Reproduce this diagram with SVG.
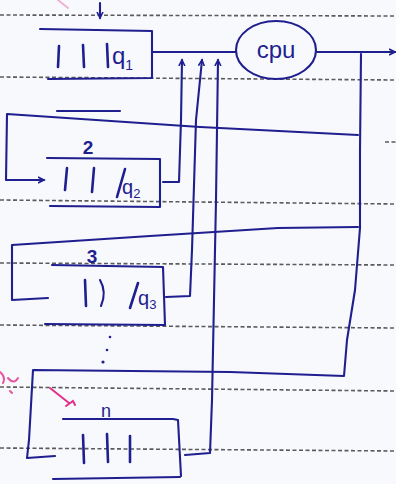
<svg xmlns="http://www.w3.org/2000/svg" width="396" height="484" viewBox="0 0 396 484">
<style>
.rule{stroke:#333;stroke-width:1.6;stroke-dasharray:4 2.5;fill:none;opacity:.8}
.ink{stroke:#1f1f8f;stroke-width:2.1;fill:none;stroke-linecap:round;stroke-linejoin:round}
.bar{stroke:#1f1f8f;stroke-width:2.6;stroke-linecap:round}
.t{font-family:"Liberation Sans","DejaVu Sans",sans-serif;fill:#1f1f8f}
.pink{stroke:#e0308a;stroke-width:2;fill:none;stroke-linecap:round}
</style>
<defs>
<marker id="ah" markerWidth="8" markerHeight="8" refX="6" refY="4" orient="auto" markerUnits="userSpaceOnUse">
<path d="M0,1 L6,4 L0,7" fill="none" stroke="#1f1f8f" stroke-width="1.6"/>
</marker>
</defs>
<rect width="396" height="484" fill="#f8f9fc"/>
<g id="ruling">
<line class="rule" x1="0" y1="15" x2="396" y2="16"/>
<line class="rule" x1="0" y1="77" x2="396" y2="80"/>
<line class="rule" x1="385" y1="142" x2="396" y2="142"/>
<line class="rule" x1="0" y1="200" x2="396" y2="204"/>
<line class="rule" x1="0" y1="263" x2="396" y2="265"/>
<line class="rule" x1="0" y1="325" x2="396" y2="328"/>
<line class="rule" x1="0" y1="387" x2="396" y2="391"/>
<line class="rule" x1="0" y1="448" x2="396" y2="451"/>
</g>
<g id="pink-marks">
<path class="pink" d="M50,388 L69,403 M66,406 L73,401 L75,405"/>
<path class="pink" d="M0,372 Q6,377 3,383 M8,378 Q14,385 18,378 M10,391 L12,393" opacity=".8"/>
<path class="pink" d="M58,0 L68,8" opacity=".35"/>
</g>
<g id="connectors" class="ink">
<path d="M100,3 L100,18" marker-end="url(#ah)"/>
<path d="M152,52 L236,52"/>
<path d="M317,52 L395,52" marker-end="url(#ah)"/>
<path d="M361,54 L360,150 L360,228 L355,290 L347,340 L344,376 L230,372 L33,370 L29,440 L27,458 L55,456"/>
<path d="M358,135 L200,127 L7,114 L6,180 L44,180" marker-end="url(#ah)"/>
<path d="M358,227 L278,228 L150,236 L12,245 L12,300 L48,298"/>
<path d="M163,182 L179,182 L181,120 L182,60" marker-end="url(#ah)"/>
<path d="M166,297 L190,296 L192,250 L196,120 L202,60" marker-end="url(#ah)"/>
<path d="M185,455 L210,453 L212,400 L216,200 L218,60" marker-end="url(#ah)"/>
</g>
<g id="queue1">
<path class="ink" d="M40,29 L152,31 L152,78 L48,79"/>
<line class="bar" x1="59" y1="46" x2="58" y2="67"/>
<line class="bar" x1="83" y1="45" x2="84" y2="67"/>
<line class="bar" x1="107" y1="44" x2="108" y2="67"/>
<text class="t" x="112" y="64" font-size="24">q<tspan font-size="14" dy="6">1</tspan></text>
</g>
<g id="cpu">
<ellipse class="ink" cx="276" cy="50" rx="40" ry="29"/>
<text class="t" x="276" y="58" font-size="24" text-anchor="middle">cpu</text>
</g>
<g id="queue2">
<line class="ink" x1="57" y1="111" x2="120" y2="111"/>
<text class="t" x="88" y="154" font-size="19" font-weight="bold" text-anchor="middle">2</text>
<path class="ink" d="M47,158 L160,159 L160,207 L50,206"/>
<line class="bar" x1="67" y1="168" x2="65" y2="190"/>
<line class="bar" x1="94" y1="168" x2="92" y2="192"/>
<line class="bar" x1="125" y1="169" x2="117" y2="197"/>
<text class="t" x="122" y="194" font-size="20">q<tspan font-size="13" dy="4">2</tspan></text>
</g>
<g id="queue3">
<text class="t" x="92" y="263" font-size="19" font-weight="bold" text-anchor="middle">3</text>
<path class="ink" d="M52,265 L163,267 L165,325 L45,324"/>
<line class="bar" x1="85" y1="280" x2="86" y2="306"/>
<path class="ink" d="M100,280 Q107,292 101,306" stroke-width="2.6"/>
<line class="bar" x1="138" y1="283" x2="130" y2="308"/>
<text class="t" x="138" y="305" font-size="20">q<tspan font-size="13" dy="4">3</tspan></text>
</g>
<g id="dots" fill="#1f1f8f">
<circle cx="110" cy="337" r="1.3"/>
<circle cx="107" cy="350" r="1.3"/>
<circle cx="103" cy="362" r="1.6"/>
</g>
<g id="queueN">
<text class="t" x="106" y="417" font-size="18" text-anchor="middle">n</text>
<path class="ink" d="M63,419 L173,419 L178,420 L181,476"/>
<path class="ink" d="M53,479 L180,477"/>
<line class="bar" x1="83" y1="435" x2="84" y2="463"/>
<line class="bar" x1="107" y1="434" x2="108" y2="462"/>
<line class="bar" x1="130" y1="436" x2="130" y2="462"/>
</g>
</svg>
